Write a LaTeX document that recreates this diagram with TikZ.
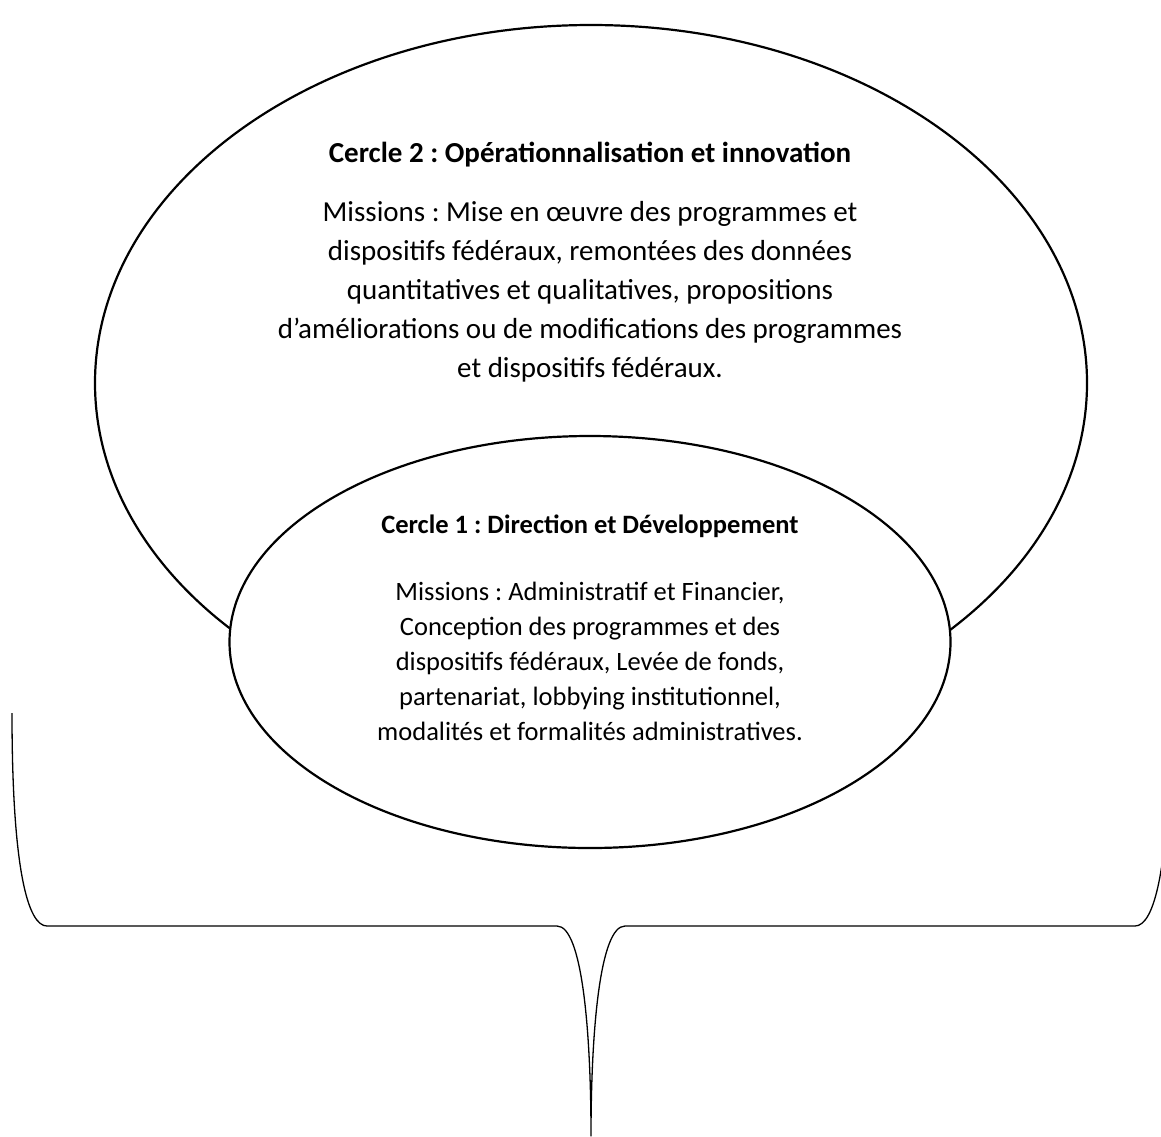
\documentclass[tikz,border=0pt]{standalone}
\usepackage{fontspec}
\setmainfont{Carlito}
\frenchspacing
\usetikzlibrary{shapes.geometric}
\begin{document}
\begin{tikzpicture}[x=1pt,y=-1pt,
  ring/.style={ellipse, draw=black, line width=2.2pt, inner sep=0pt, outer sep=0pt},
  bigtitle/.style={font=\fontsize{29}{39}\selectfont\bfseries, inner sep=0pt, anchor=base},
  bigbody/.style={font=\fontsize{29}{39}\selectfont, align=center, inner sep=0pt, anchor=base},
  smalltitle/.style={font=\fontsize{26.5}{35}\selectfont\bfseries, inner sep=0pt, anchor=base},
  smallbody/.style={font=\fontsize{26.5}{35}\selectfont, align=center, inner sep=0pt, anchor=base},
  brace/.style={draw=black, line width=1.3pt, line join=round}
]
\useasboundingbox (0,0) rectangle (1161,1136);

% outer circle (level 2)
\node[ring, minimum width=992pt, minimum height=716pt] (c2) at (591,383) {};
% inner circle (level 1), filled so that it hides the outer outline
\node[ring, fill=white, minimum width=721pt, minimum height=412pt] (c1) at (590,642) {};

% texts of circle 2 (body anchored on the baseline of its last line)
\node[bigtitle] (t2) at (590,162) {Cercle 2 : Opérationnalisation et innovation};
\node[bigbody] (m2) at (590,377) {Missions : Mise en œuvre des programmes et\\
dispositifs fédéraux, remontées des données\\
quantitatives et qualitatives, propositions\\
d’améliorations ou de modifications des programmes\\
et dispositifs fédéraux.};

% texts of circle 1
\node[smalltitle] (t1) at (590,533) {Cercle 1 : Direction et Développement};
\node[smallbody] (m1) at (590,740) {Missions : Administratif et Financier,\\
Conception des programmes et des\\
dispositifs fédéraux, Levée de fonds,\\
partenariat, lobbying institutionnel,\\
modalités et formalités administratives.};

% curly brace underneath both circles
\coordinate (bl) at (12,713);
\coordinate (blc) at (47,926);
\coordinate (bml) at (557,926);
\coordinate (tip) at (591,1136);
\coordinate (bmr) at (625,926);
\coordinate (brc) at (1135,926);
\coordinate (br) at (1170,713);
\draw[brace] (bl) .. controls (12,870) and (28,926) .. (blc)
  -- (bml) .. controls (582,926) and (591,1030) .. (tip)
  .. controls (591,1030) and (600,926) .. (bmr)
  -- (brc) .. controls (1154,926) and (1170,870) .. (br);
\end{tikzpicture}
\end{document}
